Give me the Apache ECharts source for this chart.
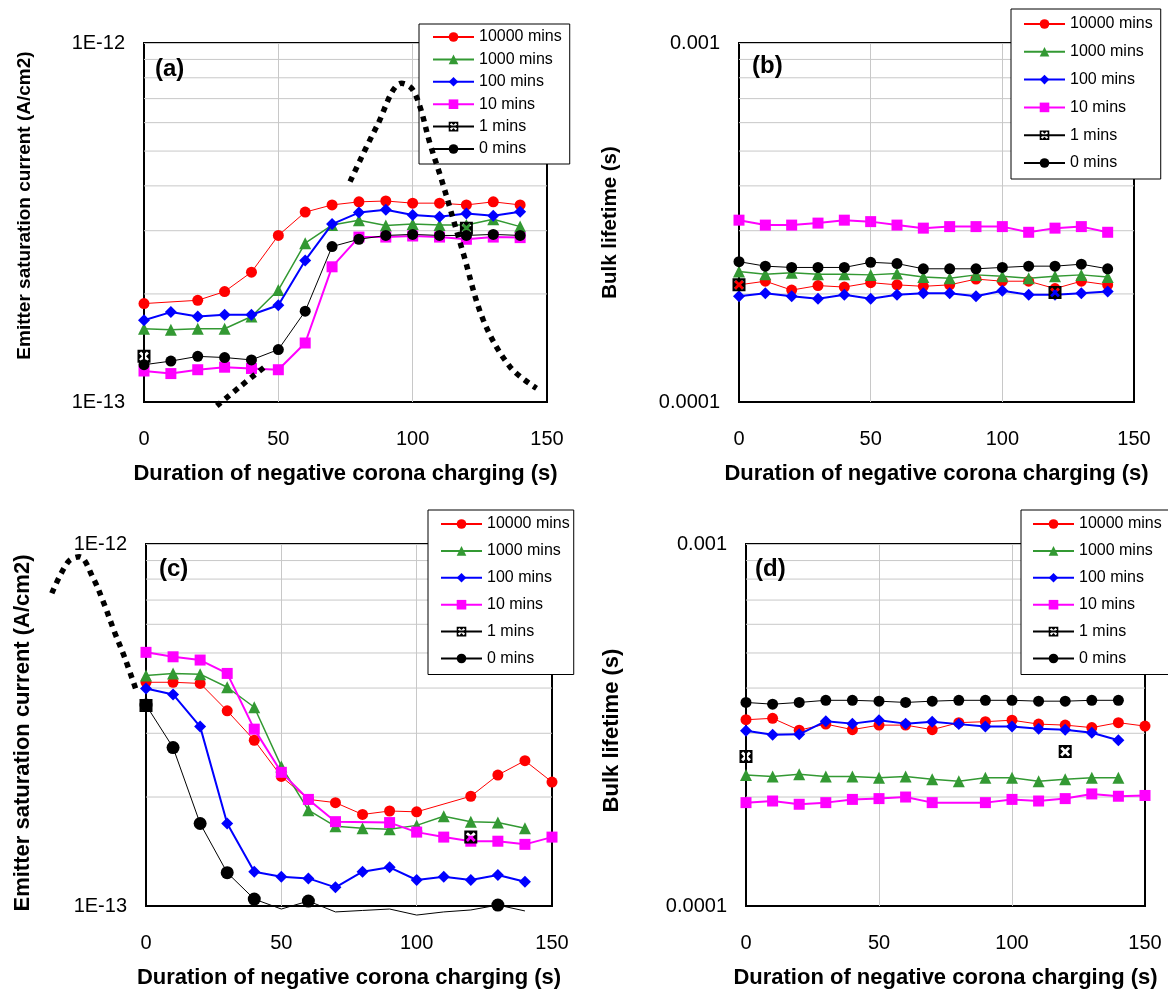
<!DOCTYPE html>
<html>
<head>
<meta charset="utf-8">
<script src="https://cdn.jsdelivr.net/npm/echarts@6.0.0/dist/echarts.min.js"></script>
<style>
  html, body { margin: 0; padding: 0; background: #fff; }
  #main { width: 1168px; height: 990px; }
</style>
</head>
<body>
<div id="main"></div>
<script>
const FONT = '"Liberation Sans", Arial, sans-serif'

// charging durations (s), shared by every panel
const durations = [0, 10, 20, 30, 40, 50, 60, 70, 80, 90, 100, 110, 120, 130, 140, 150]
const seriesNames = ['10000 mins', '1000 mins', '100 mins', '10 mins', '1 mins', '0 mins']

const xTicks = [0, 50, 100, 150]
const xName = 'Duration of negative corona charging (s)'
const yLabelsJ0 = ['1E-13', '1E-12']
const yLabelsTau = ['0.0001', '0.001']
const minorJ0 = [2e-13, 3e-13, 4e-13, 5e-13, 6e-13, 7e-13, 8e-13, 9e-13]
const minorTau = [2e-4, 3e-4, 4e-4, 5e-4, 6e-4, 7e-4, 8e-4, 9e-4]

// (a) emitter saturation current, A/cm2
const a10000 = [1.88e-13, null, 1.92e-13, 2.03e-13, 2.30e-13, 2.91e-13, 3.38e-13, 3.54e-13, 3.61e-13, 3.63e-13, 3.58e-13, 3.58e-13, 3.54e-13, 3.61e-13, 3.54e-13, null]
const a1000 = [1.60e-13, 1.59e-13, 1.60e-13, 1.60e-13, 1.73e-13, 2.05e-13, 2.77e-13, 3.11e-13, 3.21e-13, 3.10e-13, 3.13e-13, 3.11e-13, 3.11e-13, 3.23e-13, 3.08e-13, null]
const a100 = [1.69e-13, 1.78e-13, 1.73e-13, 1.75e-13, 1.75e-13, 1.86e-13, 2.48e-13, 3.13e-13, 3.37e-13, 3.43e-13, 3.32e-13, 3.28e-13, 3.35e-13, 3.30e-13, 3.39e-13, null]
const a10 = [1.22e-13, 1.20e-13, 1.23e-13, 1.25e-13, 1.24e-13, 1.23e-13, 1.46e-13, 2.38e-13, 2.88e-13, 2.88e-13, 2.90e-13, 2.88e-13, 2.84e-13, 2.88e-13, 2.87e-13, null]
const a1 = [1.34e-13, null, null, null, null, null, null, null, null, null, null, null, 3.05e-13, null, null, null]
const a0 = [1.27e-13, 1.30e-13, 1.34e-13, 1.33e-13, 1.31e-13, 1.40e-13, 1.79e-13, 2.71e-13, 2.84e-13, 2.91e-13, 2.93e-13, 2.91e-13, 2.91e-13, 2.93e-13, 2.91e-13, null]

// (b) bulk lifetime, s
const b10000 = [2.12e-4, 2.17e-4, 2.05e-4, 2.11e-4, 2.09e-4, 2.15e-4, 2.12e-4, 2.10e-4, 2.12e-4, 2.20e-4, 2.17e-4, 2.17e-4, 2.07e-4, 2.17e-4, 2.12e-4, null]
const b1000 = [2.31e-4, 2.27e-4, 2.29e-4, 2.27e-4, 2.27e-4, 2.26e-4, 2.28e-4, 2.23e-4, 2.21e-4, 2.26e-4, 2.24e-4, 2.21e-4, 2.24e-4, 2.26e-4, 2.23e-4, null]
const b100 = [1.97e-4, 2.01e-4, 1.97e-4, 1.94e-4, 1.99e-4, 1.94e-4, 1.99e-4, 2.01e-4, 2.01e-4, 1.97e-4, 2.04e-4, 1.99e-4, 1.99e-4, 2.01e-4, 2.03e-4, null]
const b10 = [3.21e-4, 3.11e-4, 3.11e-4, 3.15e-4, 3.21e-4, 3.18e-4, 3.11e-4, 3.05e-4, 3.08e-4, 3.08e-4, 3.08e-4, 2.97e-4, 3.05e-4, 3.08e-4, 2.97e-4, null]
const b1 = [2.12e-4, null, null, null, null, null, null, null, null, null, null, null, 2.02e-4, null, null, null]
const b0 = [2.46e-4, 2.39e-4, 2.37e-4, 2.37e-4, 2.37e-4, 2.45e-4, 2.43e-4, 2.35e-4, 2.35e-4, 2.35e-4, 2.37e-4, 2.39e-4, 2.39e-4, 2.42e-4, 2.35e-4, null]

// (c) emitter saturation current, A/cm2
const c10000 = [4.15e-13, 4.15e-13, 4.12e-13, 3.46e-13, 2.87e-13, 2.28e-13, 1.97e-13, 1.93e-13, 1.79e-13, 1.83e-13, 1.82e-13, null, 2.01e-13, 2.30e-13, 2.52e-13, 2.20e-13]
const c1000 = [4.33e-13, 4.39e-13, 4.37e-13, 4.02e-13, 3.54e-13, 2.43e-13, 1.84e-13, 1.66e-13, 1.64e-13, 1.63e-13, 1.67e-13, 1.77e-13, 1.71e-13, 1.70e-13, 1.64e-13, null]
const c100 = [3.99e-13, 3.84e-13, 3.13e-13, 1.69e-13, 1.244e-13, 1.205e-13, 1.192e-13, 1.126e-13, 1.244e-13, 1.279e-13, 1.180e-13, 1.205e-13, 1.180e-13, 1.218e-13, 1.167e-13, null]
const c10 = [5.02e-13, 4.88e-13, 4.78e-13, 4.39e-13, 3.08e-13, 2.34e-13, 1.97e-13, 1.71e-13, null, 1.70e-13, 1.60e-13, 1.55e-13, 1.51e-13, 1.51e-13, 1.48e-13, 1.55e-13]
const c1 = [3.58e-13, null, null, null, null, null, null, null, null, null, null, null, 1.55e-13, null, null, null]
const c0 = [3.59e-13, 2.74e-13, 1.69e-13, 1.236e-13, 1.045e-13, 0.981e-13, 1.032e-13, 0.963e-13, 0.972e-13, 0.981e-13, 0.944e-13, 0.963e-13, 0.975e-13, 1.006e-13, 0.969e-13, null]

// (d) bulk lifetime, s
const d10000 = [3.27e-4, 3.30e-4, 3.06e-4, 3.18e-4, 3.07e-4, 3.16e-4, 3.16e-4, 3.07e-4, 3.21e-4, 3.23e-4, 3.26e-4, 3.18e-4, 3.16e-4, 3.11e-4, 3.21e-4, 3.14e-4]
const d1000 = [2.30e-4, 2.28e-4, 2.31e-4, 2.28e-4, 2.28e-4, 2.26e-4, 2.28e-4, 2.24e-4, 2.21e-4, 2.26e-4, 2.26e-4, 2.21e-4, 2.24e-4, 2.26e-4, 2.26e-4, null]
const d100 = [3.05e-4, 2.97e-4, 2.98e-4, 3.24e-4, 3.19e-4, 3.26e-4, 3.19e-4, 3.23e-4, 3.18e-4, 3.13e-4, 3.13e-4, 3.09e-4, 3.07e-4, 3.01e-4, 2.87e-4, null]
const d10 = [1.93e-4, 1.95e-4, 1.91e-4, 1.93e-4, 1.97e-4, 1.98e-4, 2.00e-4, 1.93e-4, null, 1.93e-4, 1.97e-4, 1.95e-4, 1.98e-4, 2.04e-4, 2.01e-4, 2.02e-4]
const d1 = [2.59e-4, null, null, null, null, null, null, null, null, null, null, null, 2.67e-4, null, null, null]
const d0 = [3.65e-4, 3.61e-4, 3.65e-4, 3.70e-4, 3.70e-4, 3.68e-4, 3.65e-4, 3.68e-4, 3.70e-4, 3.70e-4, 3.70e-4, 3.68e-4, 3.68e-4, 3.70e-4, 3.70e-4, null]

// thick dotted guide curves drawn over panels (a) and (c)
const curveAx = [27.1, 35.7, 45.0, null, 76.7, 86.6, 95.9, 99.6, 102.7, 106.4, 110.8, 118.8, 126.3, 136.2, 146.1]
const curveAy = [0.975e-13, 1.103e-13, 1.254e-13, null, 4.11e-13, 5.85e-13, 7.72e-13, 7.48e-13, 6.65e-13, 5.26e-13, 4.15e-13, 2.60e-13, 1.69e-13, 1.254e-13, 1.092e-13]
const curveCx = [-34.8, -28.7, -24.6, -19.5, -15.8, -11.5, -7.8, -3.4]
const curveCy = [7.31e-13, 8.94e-13, 9.22e-13, 8.04e-13, 6.93e-13, 5.68e-13, 4.84e-13, 3.90e-13]
const CURVE_C_XMIN = -40   // the (c) curve starts left of the y axis

const X_BOX = 'path://M0,0L20,0L20,20L0,20Z' +
  'M6.89,10L2.44,14.44L5.56,17.56L10,13.11L14.44,17.56L17.56,14.44L13.11,10L17.56,5.56L14.44,2.44L10,6.89L5.56,2.44L2.44,5.56Z'

const STYLES = [
  { color: '#FF0000', symbol: 'circle', size: 11, width: 1, connect: true },
  { color: '#339933', symbol: 'triangle', size: 12, width: 1.5, connect: true },
  { color: '#0000FF', symbol: 'diamond', size: 12, width: 2, connect: true },
  { color: '#FF00FF', symbol: 'rect', size: 11, width: 2, connect: true },
  { color: '#000000', symbol: X_BOX, size: 13, width: 1, connect: false },
  { color: '#000000', symbol: 'circle', size: 11, width: 1, connect: true },
]

const grids = [
  { left: 144, top: 43, width: 403, height: 359 },
  { left: 739, top: 43, width: 395, height: 359 },
  { left: 146, top: 544, width: 406, height: 362 },
  { left: 746, top: 544, width: 399, height: 362 },
]

const panels = [
  { values: [a10000, a1000, a100, a10, a1, a0], min: 1e-13, max: 1e-12, labels: yLabelsJ0, minor: minorJ0,
    yName: 'Emitter saturation current (A/cm2)', nameSize: 19, nameGap: 110, namePad: [0, 0, 0, 34], tag: '(a)', tagPos: [155, 57] },
  { values: [b10000, b1000, b100, b10, b1, b0], min: 1e-4, max: 1e-3, labels: yLabelsTau, minor: minorTau,
    yName: 'Bulk lifetime (s)', nameSize: 20.5, nameGap: 118, namePad: 0, tag: '(b)', tagPos: [752, 54] },
  { values: [c10000, c1000, c100, c10, c1, c0], min: 1e-13, max: 1e-12, labels: yLabelsJ0, minor: minorJ0,
    yName: 'Emitter saturation current (A/cm2)', nameSize: 22, nameGap: 112, namePad: [0, 16, 0, 0], tag: '(c)', tagPos: [159, 557] },
  { values: [d10000, d1000, d100, d10, d1, d0], min: 1e-4, max: 1e-3, labels: yLabelsTau, minor: minorTau,
    yName: 'Bulk lifetime (s)', nameSize: 22, nameGap: 123, namePad: [0, 11, 0, 0], tag: '(d)', tagPos: [755, 557] },
]

const legendBoxes = [
  { left: 419, top: 24, itemGap: 6.4, padding: [5, 8, 7, 13] },
  { left: 1011, top: 9, itemGap: 11.8, padding: [7, 8, 8, 12] },
  { left: 428, top: 510, itemGap: 10.9, padding: [6, 4, 8, 12] },
  { left: 1021, top: 510, itemGap: 10.9, padding: [6, 12, 8, 11] },
]

function dataSeries(gi, idx, values) {
  const st = STYLES[idx]
  const s = {
    name: seriesNames[idx],
    type: 'line',
    xAxisIndex: gi,
    yAxisIndex: gi,
    data: durations.map((x, i) => [x, values[i]]),
    symbol: st.symbol,
    symbolSize: st.size,
    showAllSymbol: true,
    connectNulls: st.connect,
    lineStyle: { color: st.color, width: st.width },
    itemStyle: { color: st.color },
    z: 3 + idx,
  }
  // (c) 0 mins runs below the axis minimum: line is drawn, off-scale markers are not
  if (gi === 2 && idx === 5) {
    s.clip = false
    s.symbolSize = v => (v[1] < panels[gi].min ? 0 : 13)
  }
  return s
}

// light horizontal gridlines at 2..9 of each decade, one broken polyline per panel
function minorGridSeries(gi, values) {
  const data = []
  values.forEach(v => {
    data.push([xTicks[0], v], [xTicks[xTicks.length - 1], v], [null, null])
  })
  return {
    type: 'line',
    xAxisIndex: gi,
    yAxisIndex: gi,
    data,
    symbol: 'none',
    silent: true,
    connectNulls: false,
    lineStyle: { color: '#c8c8c8', width: 1 },
    z: 1,
  }
}

function curveSeries(axisIndex, xs, ys) {
  return {
    type: 'line',
    xAxisIndex: axisIndex,
    yAxisIndex: axisIndex,
    data: xs.map((x, i) => [x, ys[i]]),
    symbol: 'none',
    smooth: 0.35,
    clip: false,
    silent: true,
    lineStyle: { color: '#000', width: 5.5, type: [5.5, 5.5], cap: 'butt' },
    z: 20,
  }
}

// hidden helper grid over panel (c), stretched left so the curve keeps the same scale
const gc = grids[2]
const pxPerSec = gc.width / (xTicks[xTicks.length - 1] - xTicks[0])
const curveGrid = {
  left: gc.left + CURVE_C_XMIN * pxPerSec,
  top: gc.top,
  width: gc.width - CURVE_C_XMIN * pxPerSec,
  height: gc.height,
  show: false,
}

const series = []
panels.forEach((p, gi) => {
  series.push(minorGridSeries(gi, p.minor))
  p.values.forEach((vals, idx) => series.push(dataSeries(gi, idx, vals)))
})
series.push(curveSeries(0, curveAx, curveAy))
series.push(curveSeries(4, curveCx, curveCy))

const xAxes = grids.map((g, gi) => ({
  type: 'value',
  gridIndex: gi,
  min: xTicks[0],
  max: xTicks[xTicks.length - 1],
  interval: xTicks[1] - xTicks[0],
  axisLine: { show: false },
  axisTick: { show: false },
  axisLabel: { fontSize: 20, color: '#000', margin: 27, fontFamily: FONT },
  splitLine: { show: true, showMinLine: false, showMaxLine: false, lineStyle: { color: '#c8c8c8', width: 1 } },
  name: xName,
  nameLocation: 'middle',
  nameGap: 61,
  nameTextStyle: { fontSize: 22, fontWeight: 'bold', color: '#000', fontFamily: FONT },
}))
xAxes.push({ type: 'value', gridIndex: 4, min: CURVE_C_XMIN, max: xTicks[xTicks.length - 1], show: false })

const yAxes = panels.map((p, gi) => ({
  type: 'log',
  logBase: 10,
  gridIndex: gi,
  min: p.min,
  max: p.max,
  axisLine: { show: false },
  axisTick: { show: false },
  axisLabel: { fontSize: 20, color: '#000', margin: 19, fontFamily: FONT, formatter: (v, i) => p.labels[i] },
  splitLine: { show: true, showMinLine: false, showMaxLine: false, lineStyle: { color: '#c8c8c8', width: 1 } },
  name: p.yName,
  nameLocation: 'middle',
  nameGap: p.nameGap,
  nameTextStyle: { fontSize: p.nameSize, fontWeight: 'bold', color: '#000', fontFamily: FONT, padding: p.namePad },
}))
yAxes.push({ type: 'log', logBase: 10, gridIndex: 4, min: panels[2].min, max: panels[2].max, show: false })

const option = {
  animation: false,
  backgroundColor: '#fff',
  textStyle: { fontFamily: FONT, color: '#000' },
  title: panels.map(p => ({
    text: p.tag,
    left: p.tagPos[0],
    top: p.tagPos[1],
    padding: 0,
    textStyle: { fontSize: 24, fontWeight: 'bold', color: '#000', fontFamily: FONT },
  })),
  grid: grids.map(g => Object.assign({ show: true, borderColor: '#000', borderWidth: 2, backgroundColor: 'transparent' }, g))
    .concat([curveGrid]),
  legend: legendBoxes.map(l => ({
    orient: 'vertical',
    left: l.left,
    top: l.top,
    padding: l.padding,
    itemGap: l.itemGap,
    itemWidth: 41,
    itemHeight: 12,
    data: seriesNames,
    selectedMode: false,
    backgroundColor: '#fff',
    borderColor: '#000',
    borderWidth: 1,
    borderRadius: 0,
    textStyle: { fontSize: 16, color: '#000', fontFamily: FONT },
  })),
  xAxis: xAxes,
  yAxis: yAxes,
  series,
}

const chart = echarts.init(document.getElementById('main'))
chart.setOption(option)
</script>
</body>
</html>
